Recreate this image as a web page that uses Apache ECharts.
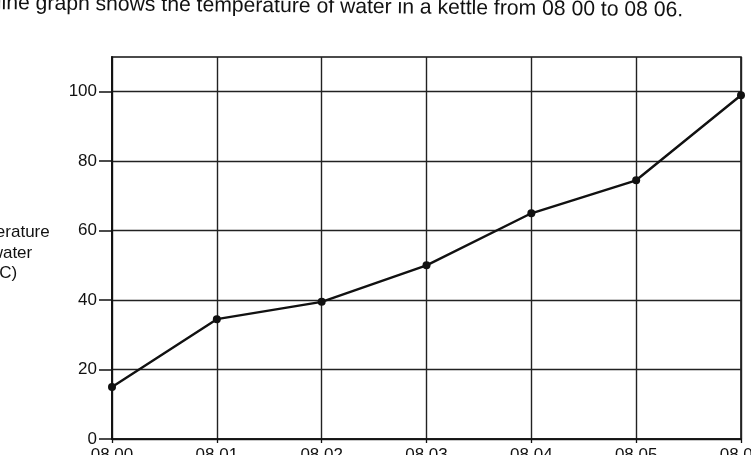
<!DOCTYPE html>
<html><head><meta charset="utf-8">
<script src="https://cdn.jsdelivr.net/npm/echarts@6/dist/echarts.min.js"></script>
<style>html,body{margin:0;padding:0;background:#fff}#c{width:751px;height:455px}</style>
</head><body><div id="c"></div>
<script>
var categories = ['08 00','08 01','08 02','08 03','08 04','08 05','08 06'];
var temperature = [15, 34.5, 39.5, 50, 65, 74.5, 99];
var yTickValues = [0, 20, 40, 60, 80, 100];
var titleText = 'The line graph shows the temperature of water in a kettle from 08 00 to 08 06.';
var yNameLines = ['Temperature', 'of water', '(°C)'];

var chart = echarts.init(document.getElementById('c'));
var font = '"Liberation Sans", Arial, sans-serif';
chart.setOption({
  animation: false,
  backgroundColor: '#fff',
  graphic: [
    {type:'text', x: 683, y: 21, rotation: -0.0105, style:{text: titleText, font: '21.15px ' + font, fill:'#111', textAlign:'right', textVerticalAlign:'bottom'}},
    {type:'text', x: 2, y: 232, style:{text: yNameLines[0], font: '17px ' + font, fill:'#111', textAlign:'center', textVerticalAlign:'middle'}},
    {type:'text', x: 2, y: 253, style:{text: yNameLines[1], font: '17px ' + font, fill:'#111', textAlign:'center', textVerticalAlign:'middle'}},
    {type:'text', x: 2, y: 273, style:{text: yNameLines[2], font: '17px ' + font, fill:'#111', textAlign:'center', textVerticalAlign:'middle'}}
  ],
  grid: {left: 112, right: 10, top: 57, bottom: 16, outerBoundsMode: 'none', containLabel: false,
         show: true, borderColor: '#111', borderWidth: 1.6, backgroundColor: 'transparent'},
  xAxis: {
    type: 'category', data: categories, boundaryGap: false,
    axisLine: {lineStyle: {color: '#111', width: 1.6}},
    axisTick: {show: true, length: 4, lineStyle: {color: '#111', width: 1.3}},
    axisLabel: {color: '#111', fontSize: 17, fontFamily: font, margin: 8},
    splitLine: {show: true, lineStyle: {color: '#222', width: 1.4}}
  },
  yAxis: {
    type: 'value', min: 0, max: 110, interval: 5,
    axisLine: {show: true, lineStyle: {color: '#111', width: 1.8}},
    axisTick: {show: true, length: 13, customValues: yTickValues, lineStyle: {color: '#111', width: 1.5}},
    axisLabel: {color: '#111', fontSize: 17, fontFamily: font, margin: 15, customValues: yTickValues},
    splitLine: {show: true, lineStyle: {color: '#222', width: 1.4}}
  },
  series: [{
    type: 'line', data: temperature,
    symbol: 'circle', symbolSize: 8,
    lineStyle: {color: '#111', width: 2.4},
    itemStyle: {color: '#111'}
  }]
});
</script></body></html>
